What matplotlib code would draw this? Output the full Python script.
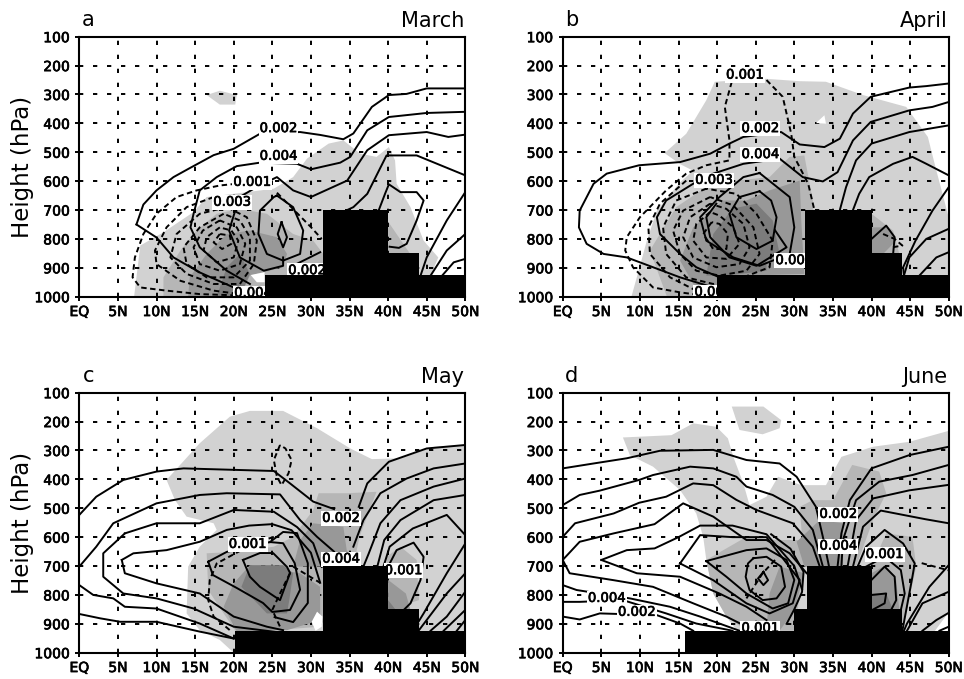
import matplotlib
matplotlib.use("Agg")
import matplotlib.pyplot as plt
import matplotlib.patheffects as pe

# all contours/shades below are (latitude, pressure hPa)
LAT_TICKS = [0, 5, 10, 15, 20, 25, 30, 35, 40, 45, 50]
LAT_LABELS = ["EQ", "5N", "10N", "15N", "20N", "25N", "30N", "35N", "40N", "45N", "50N"]
P_TICKS = [100, 200, 300, 400, 500, 600, 700, 800, 900, 1000]
GRAYS = ["#d2d2d2", "#b6b6b6", "#989898", "#7c7c7c"]

A_TOPO_LAT = [24, 31.6, 31.6, 40, 40, 44, 44, 50]
A_TOPO_P = [925, 925, 700, 700, 850, 850, 925, 925]
B_TOPO_LAT = [20, 31.4, 31.4, 40, 40, 44, 44, 50]
B_TOPO_P = [925, 925, 700, 700, 850, 850, 925, 925]
C_TOPO_LAT = [20.2, 31.6, 31.6, 40, 40, 44, 44, 50]
C_TOPO_P = [925, 925, 700, 700, 850, 850, 925, 925]
D_TOPO_LAT = [15.8, 30, 30, 31.6, 31.6, 40, 40, 44, 44, 50]
D_TOPO_P = [925, 925, 850, 850, 700, 700, 850, 850, 925, 925]

A_SHADES = [
    (0, [(16.5, 302), (18.2, 287), (20.4, 302), (20.2, 335), (18.2, 335)]),
    (0, [(7.1, 1000), (7.9, 823), (10.9, 777), (14.8, 707), (16.5, 655), (20, 644), (25.2, 626), (27.7, 586),
         (29.5, 522), (32.3, 470), (34.2, 459), (36.4, 505), (38.5, 516), (40.1, 482), (40.9, 528), (41.1, 609),
         (42.9, 690), (44.6, 806), (46.5, 864), (45.5, 927), (45, 1000)]),
    (1, [(10.9, 1000), (10.9, 933), (13.1, 840), (15.2, 771), (17.8, 713), (20.8, 696), (24.3, 713), (27.7, 783),
         (30.3, 806), (31.6, 852), (31.6, 1000)]),
    (1, [(40, 740), (42.3, 830), (43.6, 880), (40, 880)]),
    (2, [(14.1, 1000), (14.3, 933), (16.5, 852), (19.1, 783), (22.1, 771), (25.6, 794), (26.9, 852), (26.4, 898),
         (22.1, 927), (20.8, 1000)]),
    (3, [(17.8, 1000), (19.1, 898), (20.8, 852), (22.1, 921), (20.8, 1000)]),
]
A_HOLES = [[(22.2, 925), (24, 915), (24, 950), (23, 950)]]
A_SOLID = [
    [(7.4, 750), (8.3, 681), (10, 632), (12.2, 586), (14.3, 555), (17.4, 510), (20, 488), (23.4, 436), (28.6, 430),
     (31.2, 440), (34.2, 455), (35.5, 435), (37.9, 343), (40.1, 302), (42.4, 298), (45, 279), (50, 279)],
    [(7.4, 750), (10, 795), (12.2, 864), (15.6, 916), (20, 968)],
    [(50, 360), (45, 364), (40.1, 378), (37.3, 424), (35.1, 516), (33.8, 536), (30, 559), (28.2, 540), (23.4, 536),
     (20.4, 548), (17.8, 586), (15.6, 632), (14.8, 713), (14.4, 760), (15.6, 829), (19.1, 910), (22.1, 956)],
    [(50, 439), (47.8, 447), (45, 430), (40.1, 441), (37.3, 493), (34.7, 598), (30, 655), (27.7, 632), (25.6, 586),
     (23, 620), (20, 667)],
    [(50, 580), (43.7, 511), (39.8, 511), (37.3, 644), (35.5, 690), (34.7, 700)],
    [(38.8, 700), (39.6, 644), (40.1, 611), (41.6, 638), (43.7, 638), (44.6, 667), (43.7, 736), (42.4, 817),
     (41.4, 831), (40.2, 827)],
    [(50, 638), (47.6, 736), (45, 864), (44.2, 927)],
    [(50, 783), (47.6, 840), (45.5, 927)],
    [(50, 869), (48.5, 881), (47, 927)],
    [(25.6, 650), (25.2, 655), (23.4, 702), (23.2, 783), (24.3, 852), (26.4, 875), (28.6, 852), (29, 771),
     (27.7, 690), (25.6, 650)],
    [(26.2, 742), (26.9, 794), (26.4, 829), (25.7, 783), (26.2, 742)],
    [(20.2, 702), (19.4, 771), (20.8, 864), (23.9, 910), (26.4, 893), (26.4, 864)],
    [(27.3, 898), (31.2, 846)],
]
A_DASHED = [
    [(22.6, 603), (18.2, 615), (15.2, 632), (12.6, 655), (10, 713), (8.3, 783), (7.2, 864), (6.9, 933), (7.9, 968),
     (11.3, 979), (15.6, 991), (20, 995)],
    [(17.4, 655), (13.9, 690), (11.3, 760), (9.8, 840), (10, 887), (13.1, 945), (17.4, 979), (20.8, 991)],
    [(19.1, 690), (15.6, 713), (12.6, 783), (11.8, 864), (13.9, 921), (17.4, 956), (20.8, 956), (22.6, 887), (23, 806),
     (21.7, 725), (19.1, 690)],
    [(18.7, 713), (15.6, 760), (13.5, 829), (13.9, 887), (16.5, 933), (20, 933), (22.1, 875), (22.1, 794), (20.8, 736),
     (18.7, 713)],
    [(18.2, 736), (16, 771), (14.8, 829), (15.6, 887), (18.2, 910), (20.8, 887), (21.5, 817), (20.4, 760), (18.2, 736)],
    [(18.2, 760), (16.5, 794), (16.1, 840), (17.8, 881), (20, 864), (20.6, 806), (19.7, 771), (18.2, 760)],
    [(18.2, 783), (17.4, 812), (18.5, 835), (19.7, 817), (19.5, 788), (18.2, 783)],
    [(25.6, 640), (30, 759), (31.4, 800)],
]
A_LABELS = [(25.8, 418, "0.002"), (25.8, 514, "0.004"), (22.4, 604, "0.001"), (19.8, 673, "0.003"),
            (29.5, 910, "0.002"), (22.5, 988, "0.004")]

B_SHADES = [
    (0, [(13.2, 503), (16, 436), (18.6, 320), (19.7, 256), (25.9, 245), (30.7, 254), (34.1, 256), (38.9, 302),
         (44.5, 343), (47.3, 447), (48.4, 563), (50, 725), (50, 1000), (8.9, 1000), (9.6, 933), (10.9, 806),
         (12.2, 702), (15.2, 604), (16.9, 564), (15.2, 541)]),
    (1, [(11.3, 840), (14.7, 690), (18.6, 620), (22.9, 597), (26.8, 586), (29.4, 516), (31.3, 511), (32.4, 667),
         (32.4, 930), (20, 1000), (13.5, 1000)]),
    (1, [(40, 713), (42.8, 771), (43.6, 852), (40, 852)]),
    (2, [(15.2, 875), (16.9, 760), (20.8, 667), (23.8, 667), (26.8, 632), (30.7, 598), (30.9, 736), (31.3, 921),
         (23.8, 927), (20, 960), (17, 960)]),
    (2, [(40, 760), (41.9, 760), (43.2, 806), (41.5, 852), (40, 852)]),
    (3, [(25.1, 678), (27.2, 736), (28.1, 852), (26.4, 875), (26.4, 910), (21.2, 927), (18.6, 927), (19.5, 783),
         (22, 695)]),
]
B_HOLES = [[(32.8, 399), (33.9, 372), (34.1, 401)]]
B_SOLID = [
    [(50, 262), (47.1, 271), (44.9, 276), (39.9, 308), (37.6, 366), (35.9, 453), (33.9, 482), (30.7, 473), (28.3, 430),
     (23.4, 447), (21.6, 470), (19.1, 505), (15.2, 534), (9.9, 545), (5.7, 574), (4, 609), (2.2, 702), (2.1, 760),
     (3.1, 817), (5.3, 852), (8.3, 864), (11.7, 898), (15.2, 933), (19.5, 968)],
    [(50, 326), (47.9, 343), (44.9, 355), (39.9, 395), (37.6, 459), (35.6, 569), (33.7, 601), (31.1, 586), (28.1, 522),
     (23.4, 540), (19.5, 574), (16.9, 609), (13.4, 667), (12.2, 725), (12.6, 783), (15.2, 852), (17.3, 898),
     (20.3, 933)],
    [(50, 407), (44.9, 430), (40, 470), (38, 528), (36.7, 621), (35.9, 700)],
    [(50, 580), (47.1, 540), (45.3, 516), (42.8, 540), (39.7, 586), (38.4, 644), (37.6, 700)],
    [(50, 621), (47.9, 702), (45.7, 806), (44.1, 898), (44.2, 927)],
    [(50, 765), (47.1, 800), (44.9, 864), (44.2, 927)],
    [(50, 846), (48.4, 864), (46.2, 927)],
    [(40, 800), (41.9, 754), (43, 794), (42.8, 852)],
    [(25.5, 572), (29.4, 655), (30, 760), (29.4, 852), (25.5, 893), (22.1, 864), (18.6, 806), (17.8, 725), (20.3, 655),
     (23.4, 586), (25.5, 572)],
    [(25.5, 635), (22.9, 655), (21.6, 713), (22.5, 794), (25.1, 835), (27.2, 806), (27.7, 725), (27, 667), (25.5, 635)],
    [(19.9, 678), (18.6, 725), (19.1, 794), (21.6, 864), (25.1, 893), (29, 829), (27.5, 770)],
]
B_DASHED = [
    [(21.9, 256), (21, 343), (21.6, 459), (21.6, 528), (18.6, 545), (16, 574), (13.4, 632), (10, 725), (8.3, 794),
     (8.1, 840), (9.1, 898), (11.7, 968), (15.2, 985), (18.6, 997)],
    [(26.4, 250), (28.5, 308), (29.6, 436), (30, 516), (31.8, 609), (32.6, 700)],
    [(16, 598), (12.6, 678), (11.1, 760), (11.3, 852), (13.9, 933), (17.3, 979), (19.5, 991)],
    [(18.6, 626), (14.7, 667), (13, 760), (13.4, 852), (16, 933), (19.5, 956), (23.4, 933), (26.8, 898), (27.2, 806),
     (25.1, 713), (22.5, 644), (18.6, 626)],
    [(19.1, 655), (15.6, 702), (14.3, 771), (15.2, 852), (17.3, 910), (20.3, 927), (23.8, 910), (25.5, 852), (24.7, 760),
     (22.1, 684), (19.1, 655)],
    [(19.1, 678), (16.5, 725), (15.6, 794), (16.9, 864), (19.9, 898), (22.9, 887), (24.2, 829), (23.4, 748), (21.2, 696),
     (19.1, 678)],
    [(19.1, 707), (17.3, 748), (16.9, 806), (18.6, 864), (21.2, 869), (22.9, 817), (22.1, 760), (20.3, 719), (19.1, 707)],
    [(19.3, 742), (18.2, 783), (19.5, 835), (21.2, 835), (21.4, 783), (20.3, 748), (19.3, 742)],
    [(41.5, 783), (43, 800), (44, 823), (42.5, 830)],
]
B_LABELS = [(23.6, 233, "0.001"), (25.6, 418, "0.002"), (25.6, 508, "0.004"), (19.6, 597, "0.003"),
            (30, 875, "0.002"), (19.5, 985, "0.004")]

C_SHADES = [
    (0, [(11.3, 402), (15.6, 275), (19.5, 183), (22.1, 163), (26.4, 163), (30.8, 223), (35.1, 293), (37.9, 330),
         (41.6, 327), (46, 287), (50, 281), (50, 1000), (20, 1000), (18.2, 956), (15.6, 922), (13.9, 864), (14.1, 702),
         (15.6, 633), (17.8, 575), (17.4, 552), (13.9, 529), (12.4, 472)]),
    (1, [(16.5, 656), (20.8, 650), (25.2, 633), (27.7, 599), (30.3, 506), (31, 448), (34.7, 448), (38.5, 443),
         (36.3, 598), (35.5, 702), (31.2, 910), (20.4, 932), (18.7, 864), (16.7, 783)]),
    (1, [(39.8, 668), (41.6, 633), (43.7, 679), (44, 818), (40, 852)]),
    (2, [(30.3, 552), (34.2, 564), (34.7, 656), (31.6, 702), (27.7, 702), (28.6, 610)]),
    (2, [(20, 760), (22.1, 697), (28.6, 725), (31.2, 772), (31.2, 887), (26.9, 922), (20.4, 927), (18.7, 841)]),
    (2, [(40, 748), (42.3, 795), (42.9, 852), (40, 852)]),
    (3, [(22.1, 697), (26.4, 697), (27.7, 725), (27.2, 818), (26.9, 864), (24.3, 864), (21, 772)]),
    (3, [(40, 818), (41, 852), (40, 852)]),
]
C_HOLES = [[(30.1, 893), (30.8, 858), (31.5, 875), (31.4, 910), (30.6, 924)]]
C_SOLID = [
    [(0, 523), (2.2, 460), (5.7, 402), (10, 373), (13.5, 362), (25.2, 371), (27.3, 414), (30.3, 477), (33, 503)],
    [(36.2, 495), (37.3, 414), (40.1, 339), (45, 293), (50, 281)],
    [(0, 702), (2.2, 633), (4.4, 552), (10, 483), (15.6, 454), (19.1, 448), (26, 452), (28.6, 541), (30.8, 599), (33, 650)],
    [(35.5, 633), (36.8, 541), (39, 448), (42.4, 397), (45.9, 362), (50, 345)],
    [(0, 766), (1.8, 800), (4.4, 812), (5.9, 841), (10, 847), (15.6, 899), (20, 951)],
    [(0, 866), (2.7, 881), (5.3, 893), (10, 893), (15.6, 927), (20, 951)],
    [(5.9, 587), (3.1, 656), (3.1, 737), (5.7, 795), (10, 812), (14.8, 847), (20, 910), (26, 930)],
    [(5.9, 587), (10, 552), (15.6, 552), (20, 506), (25.2, 512), (28.2, 565), (30.3, 621), (31.4, 703)],
    [(5.5, 679), (7, 656), (11.3, 645), (15.6, 616), (19.1, 575), (22, 560), (25, 555), (27.5, 576), (30, 654), (31.2, 758)],
    [(5.5, 679), (5.9, 725), (10, 760), (15.6, 795), (20, 875), (24.3, 910), (26.4, 922)],
    [(16.7, 685), (17.3, 731), (20.4, 776), (23.8, 828), (25, 859), (27.3, 852), (28.6, 782), (27.9, 690), (26.4, 621),
     (24.7, 617), (19.1, 651), (16.7, 685)],
    [(21.2, 679), (23.4, 655), (25.1, 655), (26.9, 703), (27.3, 724), (26, 818), (23.4, 772), (22.1, 737), (21.2, 679)],
    [(24.7, 617), (26.4, 582), (28.2, 586), (29.6, 690), (29.6, 828), (27.7, 894), (25.3, 877)],
    [(50, 397), (45.9, 425), (41.6, 472), (39, 552), (37.5, 656), (36.8, 702)],
    [(50, 454), (45.9, 472), (41.6, 541), (39.5, 610), (38.6, 702)],
    [(50, 593), (47.6, 523), (43.2, 570), (40.2, 633), (39.4, 702)],
    [(40, 702), (41.1, 645), (43.3, 619), (44.6, 668), (44.2, 748), (42.9, 829), (41.8, 858)],
    [(50, 622), (47.6, 725), (44.6, 864), (44, 890)],
    [(50, 725), (47.6, 795), (44, 922)],
    [(50, 789), (47.6, 875), (45.5, 924)],
    [(50, 852), (47.2, 924)],
    [(50, 887), (48.9, 924)],
]
C_DASHED = [
    [(26, 281), (25.2, 333), (25.6, 391), (26.2, 420), (27.1, 379), (27.5, 333), (26.7, 293), (26, 281)],
    [(25.2, 599), (22.6, 622), (17.8, 691), (16.9, 748), (16.7, 818), (17.4, 875), (19.5, 922)],
    [(27.3, 724), (26, 795), (25, 852), (26, 910)],
    [(27.7, 702), (31.2, 758)],
]
C_LABELS = [(21.8, 625, "0.001"), (33.9, 535, "0.002"), (33.9, 676, "0.004"), (42, 716, "0.001")]

D_SHADES = [
    (0, [(21.9, 148), (26, 148), (28.3, 195), (28.1, 223), (25.9, 244), (22.9, 229)]),
    (0, [(7.8, 255), (14.1, 247), (16.9, 206), (19.9, 218), (21.4, 258), (22.1, 322), (23.4, 414), (24.2, 489),
         (26.4, 460), (27.9, 391), (30.9, 420), (34.1, 420), (36.1, 322), (40.2, 287), (44.9, 270), (50, 232),
         (50, 1000), (24, 1000), (23, 940), (21.2, 875), (19.5, 795), (18.6, 679), (18.2, 599), (17.3, 518),
         (15.2, 437), (11.7, 356), (8.7, 316)]),
    (1, [(37.5, 350), (41, 373), (41.9, 448), (40.2, 541), (38, 702), (31.3, 702), (30.7, 495), (32.4, 472), (35, 472)]),
    (1, [(18.6, 679), (23.8, 599), (27.2, 610), (30.7, 610), (31.3, 702), (30, 924), (23.8, 924), (21.2, 875), (19.5, 795)]),
    (1, [(40, 702), (41.9, 587), (45.3, 599), (45.8, 702), (44, 924), (40, 852)]),
    (2, [(33.3, 541), (36.3, 552), (36.3, 702), (31.3, 702), (30.3, 616)]),
    (2, [(26.8, 795), (28.1, 702), (31.3, 725), (30, 852), (28.1, 924), (26.4, 910)]),
    (2, [(40, 725), (41.5, 702), (43.2, 748), (43.6, 852), (40, 852)]),
    (3, [(40, 795), (41.9, 795), (42.8, 852), (40, 852)]),
]
D_HOLES = [[(48.2, 925), (50, 860), (50, 925)]]
D_SOLID = [
    [(0, 362), (4, 345), (8.3, 327), (12.6, 301), (19.5, 298), (23.8, 333), (28.1, 345), (30.3, 391), (32.8, 495),
     (33.7, 599), (34.5, 702)],
    [(50, 287), (44.9, 316), (40, 362), (37.2, 472), (36.1, 587), (35.6, 702)],
    [(0, 489), (2.2, 454), (4.8, 439), (9.9, 402), (11.7, 385), (16.5, 356), (19.5, 362), (22.5, 391), (23.8, 425),
     (27.2, 454), (30, 495), (32.4, 575), (33.7, 702)],
    [(50, 350), (45.3, 385), (41, 408), (38, 472), (36.3, 610), (36.1, 702)],
    [(0, 599), (1.6, 552), (6.6, 518), (9.9, 481), (13.4, 460), (16.9, 414), (19.5, 420), (22.5, 471), (25.1, 506),
     (29.8, 552), (32.4, 633), (33.3, 702)],
    [(50, 419), (44.9, 438), (40.2, 466), (38, 541), (36.9, 702)],
    [(0, 679), (2.2, 616), (6.6, 587), (11.9, 555), (15.6, 483), (19.5, 529), (23.8, 610), (26.4, 610), (29.4, 656),
     (31.6, 725)],
    [(50, 552), (47, 538), (41.2, 508), (38.9, 564), (37.6, 702)],
    [(0, 679), (0.9, 725), (6.6, 749), (11.7, 772), (16.9, 829), (21.2, 875), (23.8, 910)],
    [(0, 766), (1.8, 783), (8.7, 812), (13.9, 841), (17.8, 875), (22.9, 924)],
    [(0, 824), (2.2, 824), (7.8, 818), (13.4, 864), (17.3, 899), (22, 924)],
    [(0, 875), (2.2, 885), (4.8, 864), (12.2, 870), (15.2, 899), (16.9, 924)],
    [(5, 679), (8.3, 645), (11.9, 639), (15, 600), (17.8, 560), (22, 560), (26.4, 590), (30, 700), (31, 780)],
    [(5, 679), (9.6, 725), (15.2, 737), (20.3, 795), (23.8, 841), (26.4, 887)],
    [(15.2, 691), (17.8, 593), (22, 600), (26.4, 600), (30, 725), (30.7, 748), (29.8, 829), (26.8, 864), (23.8, 829),
     (19.5, 749), (15.2, 691)],
    [(18.6, 683), (23.8, 645), (26.4, 639), (29, 679), (30, 748), (29.2, 829), (27.2, 847), (23.8, 795), (21.2, 737), (18.6, 683)],
    [(24.7, 673), (26.4, 668), (28.3, 702), (28.8, 772), (27.7, 812), (25.9, 818), (24.2, 783), (23.7, 737), (24, 691), (24.7, 673)],
    [(26, 720), (26.6, 749), (26, 766), (25.3, 743), (26, 720)],
    [(27, 590), (29.5, 640), (31.2, 720), (31, 790), (30, 850), (29, 900)],
    [(38.2, 702), (39.3, 633), (41.7, 575), (44.1, 622), (45.6, 691), (45.3, 737), (44, 924)],
    [(39.3, 702), (41.7, 668), (43.8, 714), (44.3, 795), (43.6, 875)],
    [(40, 748), (41.7, 702), (43, 737), (43.2, 818), (42.1, 875)],
    [(40.1, 800), (41.9, 795), (41.7, 829), (40.1, 852)],
    [(50, 697), (47.5, 772), (44.6, 899), (44.2, 924)],
    [(50, 789), (46.6, 829), (44.6, 924)],
    [(50, 862), (48.4, 887), (46.6, 924)],
    [(50, 910), (48.8, 924)],
]
D_DASHED = [
    [(27.5, 679), (25.9, 725), (23.8, 812)],
    [(46.5, 690), (50, 715)],
]
D_LABELS = [(35.7, 521, "0.002"), (35.7, 631, "0.004"), (41.7, 660, "0.001"), (5.7, 812, "0.004"),
            (9.6, 860, "0.002"), (25.6, 916, "0.001")]

PANELS = [
    ("a", "March", (79.3, 36.7), A_SHADES, A_HOLES, A_SOLID, A_DASHED, A_LABELS, A_TOPO_LAT, A_TOPO_P),
    ("b", "April", (562.7, 36.7), B_SHADES, B_HOLES, B_SOLID, B_DASHED, B_LABELS, B_TOPO_LAT, B_TOPO_P),
    ("c", "May", (79.3, 392.7), C_SHADES, C_HOLES, C_SOLID, C_DASHED, C_LABELS, C_TOPO_LAT, C_TOPO_P),
    ("d", "June", (562.7, 392.7), D_SHADES, D_HOLES, D_SOLID, D_DASHED, D_LABELS, D_TOPO_LAT, D_TOPO_P),
]

W, H = 964, 679
AX_W, AX_H = 386, 260
BOLD = [pe.withStroke(linewidth=0.5, foreground="black")]


def draw_panel(fig, letter, month, origin, shades, holes, solid, dashed, labels, topo_lat, topo_p):
    x0, y0 = origin
    ax = fig.add_axes([x0 / W, 1 - (y0 + AX_H) / H, AX_W / W, AX_H / H])
    for level, poly in shades:
        lat, p = zip(*poly)
        ax.fill(lat, p, color=GRAYS[level], lw=0, zorder=level + 1)
    for poly in holes:
        lat, p = zip(*poly)
        ax.fill(lat, p, color="white", lw=0, zorder=5)
    ax.set_axisbelow(False)
    ax.grid(True, color="black", lw=1.4, linestyle=(0, (2.2, 5)), zorder=6)
    for line in solid:
        lat, p = zip(*line)
        ax.plot(lat, p, color="black", lw=1.4, zorder=7)
    for line in dashed:
        lat, p = zip(*line)
        ax.plot(lat, p, color="black", lw=1.4, linestyle=(0, (2.8, 1.8)), zorder=7)
    for lat, p, text in labels:
        ax.text(lat, p, text, ha="center", va="center", fontsize=9.5, zorder=8,
                bbox=dict(facecolor="white", edgecolor="none", pad=0.8), path_effects=BOLD)
    ax.fill_between(topo_lat, topo_p, 1000, color="black", lw=0, zorder=9)

    ax.set_xlim(0, 50)
    ax.set_ylim(1000, 100)
    ax.set_xticks(LAT_TICKS, LAT_LABELS)
    ax.set_yticks(P_TICKS)
    ax.tick_params(length=3, width=1.4, labelsize=10, pad=4)
    ax.tick_params(axis="x", pad=3)
    for tick in ax.get_xticklabels() + ax.get_yticklabels():
        tick.set_path_effects(BOLD)
    for spine in ax.spines.values():
        spine.set_linewidth(1.5)
        spine.set_zorder(10)

    fig.text((x0 + 9) / W, 1 - (y0 - 17) / H, letter, fontsize=15, ha="center", va="center")
    fig.text((x0 + 385) / W, 1 - (y0 - 16) / H, month, fontsize=15, ha="right", va="center")


def main():
    fig = plt.figure(figsize=(W / 100, H / 100), dpi=100)
    for letter, month, origin, shades, holes, solid, dashed, labels, topo_lat, topo_p in PANELS:
        draw_panel(fig, letter, month, origin, shades, holes, solid, dashed, labels, topo_lat, topo_p)
    fig.text(22 / W, 1 - 167 / H, "Height (hPa)", rotation=90, fontsize=16.5, ha="center", va="center")
    fig.text(22 / W, 1 - 523 / H, "Height (hPa)", rotation=90, fontsize=16.5, ha="center", va="center")
    fig.savefig("out.png", dpi=100)


if __name__ == "__main__":
    main()
